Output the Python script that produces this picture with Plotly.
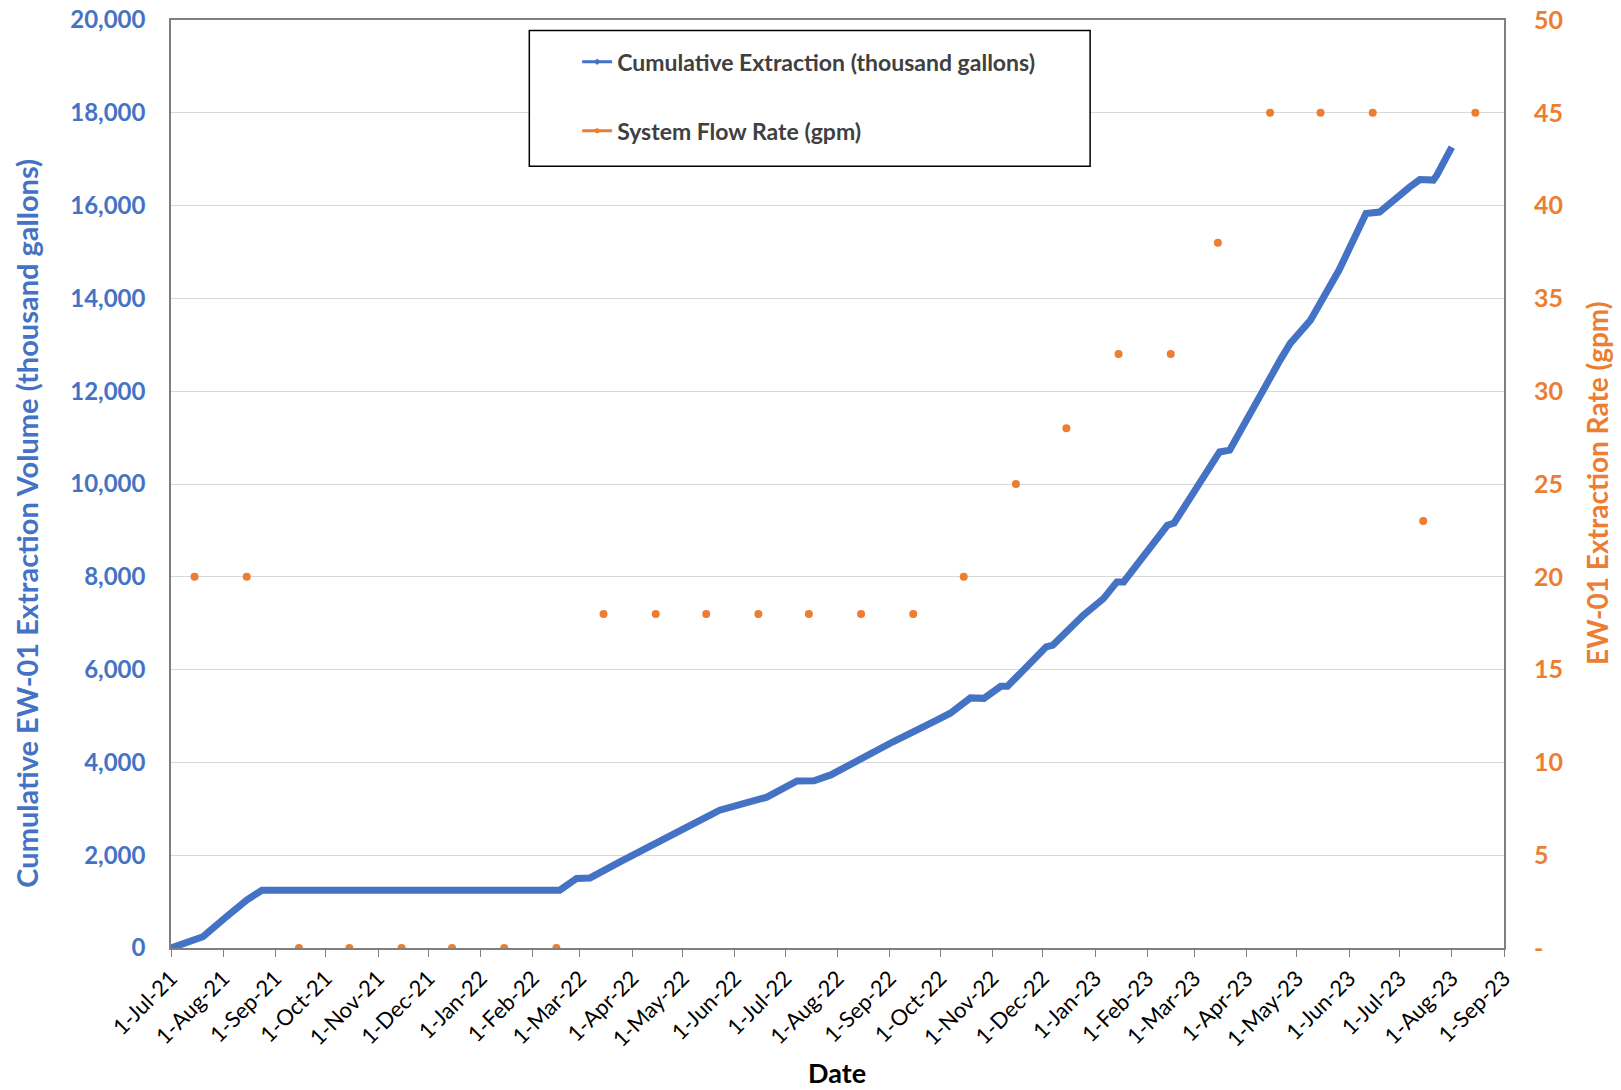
import plotly.graph_objects as go

# Cumulative extraction volume from EW-01 (thousand gallons)
extraction_dates = [
    "2021-07-01", "2021-07-20", "2021-08-03", "2021-08-15", "2021-08-24",
    "2022-02-17", "2022-02-27", "2022-03-07", "2022-03-25", "2022-04-18",
    "2022-05-07", "2022-05-23", "2022-06-04", "2022-06-20", "2022-07-08",
    "2022-07-18", "2022-07-28", "2022-08-12", "2022-09-03", "2022-09-29",
    "2022-10-07", "2022-10-19", "2022-10-27", "2022-11-06", "2022-11-10",
    "2022-12-03", "2022-12-07", "2022-12-25", "2023-01-06", "2023-01-14",
    "2023-01-18", "2023-02-13", "2023-02-17", "2023-03-16", "2023-03-22",
    "2023-04-21", "2023-04-27", "2023-05-09", "2023-05-21", "2023-05-26",
    "2023-06-11", "2023-06-19", "2023-07-07", "2023-07-13", "2023-07-21",
    "2023-07-23", "2023-08-01",
]
extraction_kgal = [
    0, 243, 675, 1034, 1245,
    1245, 1500, 1510, 1860, 2290,
    2670, 2970, 3080, 3250, 3600,
    3605, 3730, 4035, 4445, 4910,
    5060, 5390, 5380, 5640, 5640,
    6490, 6530, 7170, 7530, 7890,
    7890, 9110, 9160, 10690, 10730,
    12670, 13030, 13530, 14320, 14610,
    15830, 15860, 16400, 16560, 16550,
    16650, 17260,
]

# Monthly system flow rate readings (gpm)
flow_dates = [
    "2021-07-15", "2021-08-15", "2021-09-15", "2021-10-15", "2021-11-15",
    "2021-12-15", "2022-01-15", "2022-02-15", "2022-03-15", "2022-04-15",
    "2022-05-15", "2022-06-15", "2022-07-15", "2022-08-15", "2022-09-15",
    "2022-10-15", "2022-11-15", "2022-12-15", "2023-01-15", "2023-02-15",
    "2023-03-15", "2023-04-15", "2023-05-15", "2023-06-15", "2023-07-15",
    "2023-08-15",
]
flow_gpm = [
    20, 20, 0, 0, 0,
    0, 0, 0, 18, 18,
    18, 18, 18, 18, 18,
    20, 25, 28, 32, 32,
    38, 45, 45, 45, 23,
    45,
]

left_ticks = list(range(0, 20001, 2000))
left_ticktext = [f"{v:,}" for v in left_ticks]
right_ticks = list(range(0, 51, 5))
right_ticktext = ["-"] + [str(v) for v in right_ticks[1:]]

BLUE = "#4472C4"
ORANGE = "#ED7D31"
FONT = "Lato"

fig = go.Figure()

fig.add_trace(go.Scatter(
    x=extraction_dates, y=extraction_kgal, mode="lines",
    line=dict(color=BLUE, width=7), showlegend=False, yaxis="y",
))
fig.add_trace(go.Scatter(
    x=flow_dates, y=flow_gpm, mode="markers",
    marker=dict(color=ORANGE, size=8), showlegend=False, yaxis="y2",
))

# Legend entries
fig.add_trace(go.Scatter(
    x=[None], y=[None], mode="lines+markers", name="Cumulative Extraction (thousand gallons)",
    line=dict(color=BLUE, width=3), marker=dict(color=BLUE, size=5, symbol="diamond"),
    legendgroup="a",
))
fig.add_trace(go.Scatter(
    x=[None], y=[None], mode="lines+markers", name="System Flow Rate (gpm)",
    line=dict(color=ORANGE, width=3), marker=dict(color=ORANGE, size=5),
    legendgroup="b", yaxis="y2",
))

fig.update_layout(
    width=1621, height=1090,
    margin=dict(l=171, r=117, t=20, b=142, autoexpand=False),
    paper_bgcolor="white", plot_bgcolor="white",
    font=dict(family=FONT, color="#000000"),
    xaxis=dict(
        type="date", range=["2021-07-01", "2023-09-01"],
        tick0="2021-07-01", dtick="M1", tickformat="%-d-%b-%y",
        tickangle=-45, tickfont=dict(size=22, color="#000000", family=FONT),
        ticks="outside", ticklen=7, tickcolor="#7f7f7f",
        showline=True, linecolor="#7f7f7f", linewidth=1.5, mirror=True,
        showgrid=False, zeroline=False, automargin=False,
    ),
    yaxis=dict(
        range=[0, 20000], tickvals=left_ticks, ticktext=left_ticktext,
        tickfont=dict(size=24, color=BLUE, family=FONT, weight="bold"), ticklabelstandoff=19,
        showline=True, linecolor="#7f7f7f", linewidth=1.5, mirror=True,
        showgrid=True, gridcolor="#d9d9d9", gridwidth=1, zeroline=False, automargin=False,
    ),
    yaxis2=dict(
        range=[0, 50], tickvals=right_ticks, ticktext=right_ticktext,
        overlaying="y", side="right",
        tickfont=dict(size=25, color=ORANGE, family=FONT, weight="bold"), ticklabelstandoff=29,
        showgrid=False, zeroline=False, showline=False, automargin=False,
    ),
    legend=dict(
        x=0.3047, y=0.978, xanchor="left", yanchor="top",
        bgcolor="rgba(0,0,0,0)", borderwidth=0,
        font=dict(size=23, color="#404040", family=FONT, weight="bold"),
        traceorder="grouped", tracegroupgap=36, itemwidth=30,
    ),
    shapes=[dict(
        type="rect", xref="paper", yref="paper",
        x0=0.2688, x1=0.6895, y0=0.8423, y1=0.9888,
        fillcolor="white", line=dict(color="#000000", width=1.5), layer="above",
    )],
    annotations=[
        dict(text="<b>Cumulative EW-01 Extraction Volume (thousand gallons)</b>",
             xref="paper", yref="paper", x=-0.1084, y=0.4578, textangle=-90,
             xanchor="center", yanchor="middle",
             showarrow=False, font=dict(size=29, color=BLUE, family=FONT)),
        dict(text="<b>EW-01 Extraction Rate (gpm)</b>",
             xref="paper", yref="paper", x=1.0696, y=0.5009, textangle=-90,
             xanchor="center", yanchor="middle",
             showarrow=False, font=dict(size=28, color=ORANGE, family=FONT)),
        dict(text="<b>Date</b>",
             xref="paper", yref="paper", x=0.4997, y=-0.1346,
             xanchor="center", yanchor="middle",
             showarrow=False, font=dict(size=27, color="#000000", family=FONT)),
    ],
)

fig.write_html("out.html")
